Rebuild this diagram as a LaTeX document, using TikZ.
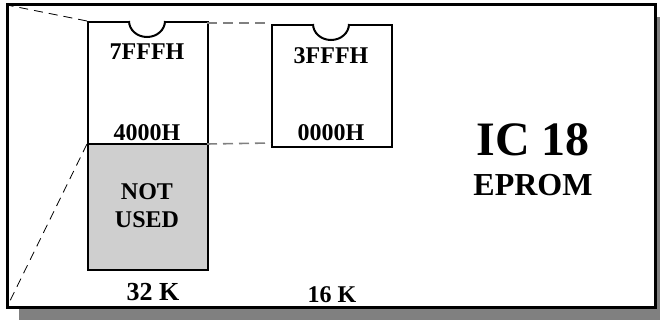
\documentclass[tikz,border=0pt]{standalone}
\usepackage{fontspec}
\setmainfont{Liberation Serif}
\begin{document}
\begin{tikzpicture}[x=1pt,y=-1pt,
  chip/.style={draw=black,line width=2pt},
  lbl/.style={font=\bfseries\fontsize{24}{26}\selectfont,inner sep=0pt},
  graydash/.style={draw=black!50,line width=1.6pt,dash pattern=on 10pt off 6pt},
  blackdash/.style={draw=black,line width=0.8pt,dash pattern=on 9pt off 6pt}]
\useasboundingbox (0,0) rectangle (660,320);
\clip (0,0) rectangle (660,320);
% shadow
\fill[black!50] (19,17) rectangle (672,330);
% frame
\draw[line width=3pt,fill=white] (7,5) rectangle (655,307);
\coordinate (ftl) at (7,5);
\coordinate (fbl) at (7,307);
% chip 1
\fill[black!19] (87,144) rectangle (207,269);
\node[chip,minimum width=120pt,minimum height=248pt,inner sep=0pt,anchor=north west] (c1) at (87,21) {};
\draw[line width=2pt] (87,144) -- (207,144);
\coordinate (c1div) at (87,144);
\coordinate (c1divr) at (207,144);
\draw[line width=2pt,fill=white] (129,21) arc[start angle=180,end angle=360,x radius=18,y radius=-16];
% chip 2
\node[chip,minimum width=120pt,minimum height=122pt,inner sep=0pt,anchor=north west] (c2) at (271,24) {};
\draw[line width=2pt,fill=white] (313,24) arc[start angle=180,end angle=360,x radius=18,y radius=-16];
% dashed connectors
\draw[graydash] (207,23) -- (c2.north west |- 0,23);
\draw[graydash] (c1divr) -- (271,143);
\draw[blackdash] (c1.north west) -- (ftl);
\draw[blackdash] (c1div) -- (fbl);
% labels
\node[lbl] (t1) at (147,52) {7FFFH};
\node[lbl] (t2) at (147,133) {4000H};
\node[lbl] (t3) at (331,56) {3FFFH};
\node[lbl] (t4) at (331,133) {0000H};
\node[lbl,align=center,font=\bfseries\fontsize{24}{28}\selectfont] (t5) at (147,206) {NOT\\USED};
\node[lbl,font=\bfseries\fontsize{26}{28}\selectfont] (t6) at (153,292) {32 K};
\node[lbl] (t7) at (332,295) {16 K};
\node[lbl,font=\bfseries\fontsize{48}{50}\selectfont] (t8) at (533,140) {IC 18};
\node[lbl,font=\bfseries\fontsize{32}{34}\selectfont] (t9) at (533,185) {EPROM};
\end{tikzpicture}
\end{document}
